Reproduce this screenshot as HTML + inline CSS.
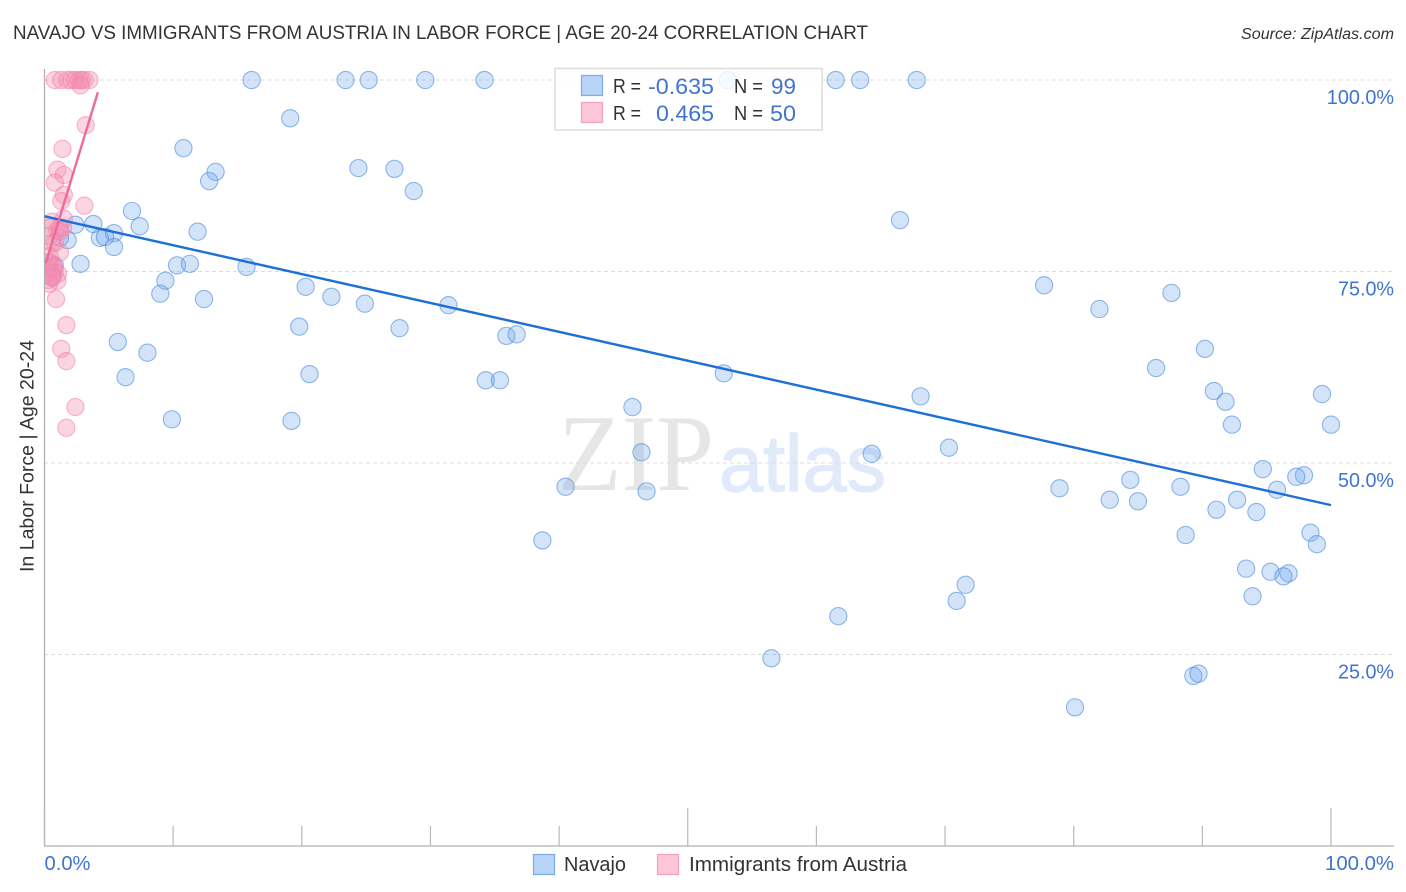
<!DOCTYPE html>
<html lang="en">
<head>
<meta charset="utf-8">
<title>Navajo vs Immigrants from Austria in Labor Force | Age 20-24 Correlation Chart</title>
<style>
html,body{margin:0;padding:0;background:#fff;width:1406px;height:892px;overflow:hidden}
svg{display:block;font-family:"Liberation Sans",sans-serif}
.blue{fill:#3f74d0}
.dark{fill:#333}
</style>
</head>
<body>
<svg id="chart" xmlns="http://www.w3.org/2000/svg" width="1406" height="892" viewBox="0 0 1406 892">
  <defs>
    <clipPath id="plot-clip"><rect x="45" y="60" width="1350" height="786"/></clipPath>
  </defs>
  <text x="13" y="39" font-size="19" fill="#333" textLength="855" lengthAdjust="spacingAndGlyphs">NAVAJO VS IMMIGRANTS FROM AUSTRIA IN LABOR FORCE | AGE 20-24 CORRELATION CHART</text>
  <text x="1241" y="39" font-size="15.5" font-style="italic" fill="#333" textLength="153" lengthAdjust="spacingAndGlyphs">Source: ZipAtlas.com</text>

  <g>
    <text x="558" y="490" font-family="'Liberation Serif',serif" font-size="109" fill="#e6e6e6" textLength="156" lengthAdjust="spacingAndGlyphs">ZIP</text>
    <text x="719" y="491" font-size="80" fill="#e0eafa" stroke="#e0eafa" stroke-width="1.2" textLength="167" lengthAdjust="spacingAndGlyphs">atlas</text>
  </g>

  <g id="grid"></g>
  <g id="axes"></g>
  <g id="navajo-points" clip-path="url(#plot-clip)"></g>
  <g id="austria-points" clip-path="url(#plot-clip)"></g>
  <g id="trend-lines"></g>
  <g id="y-labels"></g>
  <g id="x-labels"></g>

  <text transform="translate(33.5,572) rotate(-90)" font-size="19" fill="#333" textLength="232" lengthAdjust="spacingAndGlyphs">In Labor Force | Age 20-24</text>

  <g>
    <rect x="555" y="68.5" width="267" height="61.5" fill="#fff" fill-opacity="0.82" stroke="#dcdcdc" stroke-width="1.5"/>
    <rect x="581.5" y="75.5" width="21" height="20" fill="#b7d3f6" stroke="#7eaae6" stroke-width="1.2"/>
    <rect x="581.5" y="102.5" width="21" height="20" fill="#fcc6d8" stroke="#f4a0bc" stroke-width="1.2"/>
    <text x="613" y="93" font-size="20" fill="#333" textLength="28" lengthAdjust="spacingAndGlyphs">R =</text>
    <text x="648" y="94" font-size="22.5" class="blue" textLength="66" lengthAdjust="spacingAndGlyphs">-0.635</text>
    <text x="734" y="93" font-size="20" fill="#333" textLength="29" lengthAdjust="spacingAndGlyphs">N =</text>
    <text x="771" y="94" font-size="22.5" class="blue" textLength="25" lengthAdjust="spacingAndGlyphs">99</text>
    <text x="613" y="120" font-size="20" fill="#333" textLength="28" lengthAdjust="spacingAndGlyphs">R =</text>
    <text x="656" y="121" font-size="22.5" class="blue" textLength="58" lengthAdjust="spacingAndGlyphs">0.465</text>
    <text x="734" y="120" font-size="20" fill="#333" textLength="29" lengthAdjust="spacingAndGlyphs">N =</text>
    <text x="770" y="121" font-size="22.5" class="blue" textLength="26" lengthAdjust="spacingAndGlyphs">50</text>
  </g>

  <g>
    <rect x="533.5" y="854.5" width="21" height="20" fill="#b7d3f6" stroke="#7eaae6" stroke-width="1.2"/>
    <text x="564" y="871" font-size="20" fill="#333" textLength="62" lengthAdjust="spacingAndGlyphs">Navajo</text>
    <rect x="657.5" y="854.5" width="21" height="20" fill="#fcc6d8" stroke="#f4a0bc" stroke-width="1.2"/>
    <text x="689" y="871" font-size="20" fill="#333" textLength="218" lengthAdjust="spacingAndGlyphs">Immigrants from Austria</text>
  </g>
</svg>

<script>
var navajoX = [16.1,23.4,25.2,29.6,34.2,53.1,61.5,63.4,67.8,19.1,10.8,13.3,12.8,24.4,27.2,28.7,66.5,6.8,7.4,3.8,2.4,11.9,5.4,4.3,4.7,5.4,1.8,1.2,2.8,10.3,11.3,15.7,9.4,9.0,12.4,20.3,22.3,24.9,31.4,19.8,27.6,35.9,36.7,5.7,8.0,6.3,20.6,34.3,35.4,52.8,9.9,19.2,45.7,46.4,40.5,46.8,38.7,64.3,68.1,70.3,77.7,82.0,87.6,90.2,86.4,90.9,91.8,92.3,99.3,100.0,94.7,97.9,97.3,95.8,88.3,84.4,78.9,82.8,85.0,91.1,92.7,94.2,88.7,98.4,98.9,93.4,95.3,96.7,96.3,93.9,71.6,70.9,61.7,56.5,89.3,89.7,80.1,0.8,0.6];
var navajoY = [100,100,100,100,100,100,100,100,100,95.0,91.1,88.0,86.8,88.5,88.4,85.5,81.7,82.9,80.9,81.2,81.1,80.2,80.0,79.4,79.5,78.2,79.1,79.4,76.0,75.8,76.0,75.6,73.8,72.1,71.4,73.0,71.7,70.8,70.6,67.8,67.6,66.6,66.8,65.8,64.4,61.2,61.6,60.8,60.8,61.7,55.7,55.5,57.3,51.4,46.9,46.3,39.9,51.2,58.7,52.0,73.2,70.1,72.2,64.9,62.4,59.4,58.0,55.0,59.0,55.0,49.2,48.4,48.2,46.5,46.9,47.8,46.7,45.2,45.0,43.9,45.2,43.6,40.6,40.9,39.4,36.2,35.8,35.6,35.2,32.6,34.1,32.0,30.0,24.5,22.2,22.5,18.1,75.8,74.3];
var austriaX = [0.8,1.3,2.1,2.4,2.7,2.9,3.1,3.5,2.8,1.8,3.2,1.4,1.0,1.5,0.8,1.5,1.3,3.1,1.5,0.6,0.4,1.0,1.2,1.45,0.4,0.8,0.6,1.2,1.2,0.4,0.3,0.4,0.65,0.4,0.8,0.65,0.5,1.05,0.3,0.35,1.0,0.2,0.75,0.6,0.9,1.7,1.3,1.7,2.4,1.7];
var austriaY = [100,100,100,100,100,100,100,100,99.3,100,94.1,91.0,88.3,87.6,86.6,85.0,84.2,83.6,81.9,81.5,80.7,80.4,80.7,80.7,79.6,78.7,78.7,80.2,77.5,77.0,76.2,76.2,75.8,75.2,74.9,74.5,74.9,74.7,73.9,73.4,73.8,75.5,75.5,74.2,71.4,68.0,64.9,63.3,57.3,54.6];
var navajoTrendX = [0,100];
var navajoTrendY = [82.2,44.5];
var austriaTrendX = [0.1,4.15];
var austriaTrendY = [76.1,98.4];
var yTicks = [100,75,50,25];
var yTickLabels = ["100.0%","75.0%","50.0%","25.0%"];
var xTicks = [0,10,20,30,40,50,60,70,80,90,100];
var xEndValues = [0,100];
var xEndLabels = ["0.0%","100.0%"];

var NS = "http://www.w3.org/2000/svg";
function xScale(v){ return 44.5 + v * 12.865; }
function yScale(v){ return 846 - v * 7.66; }
function make(tag, parent, props){
  var el = document.createElementNS(NS, tag);
  for (var k in props) el.setAttribute(k, props[k]);
  document.getElementById(parent).appendChild(el);
  return el;
}

yTicks.forEach(function(t, i){
  var g = make("line", "grid", {x1:44, x2:1394, y1:yScale(t), y2:yScale(t), stroke:"#dcdcdc", "stroke-width":1, "stroke-dasharray":"4 3"});
  
  
  var lab = make("text", "y-labels", {x:1394, y:yScale(t) + 24, "font-size":20, fill:"#3f74d0", "text-anchor":"end", textLength:yTickLabels[i].length * 11.2, lengthAdjust:"spacingAndGlyphs"});
  
  
  lab.textContent = yTickLabels[i];
});

var yAxis = make("line", "axes", {x1:44.5, x2:44.5, y1:69, y2:846.5, stroke:"#b0b0b0", "stroke-width":1.3});


var xAxis = make("line", "axes", {x1:44, x2:1394, y1:846, y2:846, stroke:"#b0b0b0", "stroke-width":1.3});


xTicks.forEach(function(t){
  var major = (t % 50 === 0);
  var tick = make("line", "axes", {x1:xScale(t), x2:xScale(t), y1: major ? 808 : 826, y2:846, stroke:"#b8b8b8", "stroke-width":1.2});
  
  
});

xEndValues.forEach(function(v, i){
  var lab = make("text", "x-labels", {x: i === 0 ? xScale(v) : 1394, y:870, "font-size":20, fill:"#3f74d0", "text-anchor": i === 0 ? "start" : "end", textLength:xEndLabels[i].length * 11.5, lengthAdjust:"spacingAndGlyphs"});
  
  
  lab.textContent = xEndLabels[i];
});

navajoX.forEach(function(v, i){
  var c = make("circle", "navajo-points", {cx:xScale(v), cy:yScale(navajoY[i]), r:8.6, fill:"#6ea5ec", "fill-opacity":0.3, stroke:"#4a8ae0", "stroke-opacity":0.6, "stroke-width":1.1});
  
  
});
austriaX.forEach(function(v, i){
  var c = make("circle", "austria-points", {cx:xScale(v), cy:yScale(austriaY[i]), r:8.6, fill:"#f590b2", "fill-opacity":0.38, stroke:"#f080a8", "stroke-opacity":0.55, "stroke-width":1.1});
  
  
});

var navajoLine = make("line", "trend-lines", {x1:xScale(navajoTrendX[0]), y1:yScale(navajoTrendY[0]), x2:xScale(navajoTrendX[1]), y2:yScale(navajoTrendY[1]), stroke:"#1f6fd8", "stroke-width":2.4});


var austriaLine = make("line", "trend-lines", {x1:xScale(austriaTrendX[0]), y1:yScale(austriaTrendY[0]), x2:xScale(austriaTrendX[1]), y2:yScale(austriaTrendY[1]), stroke:"#ee6a9a", "stroke-width":2.4});


</script>
</body>
</html>
